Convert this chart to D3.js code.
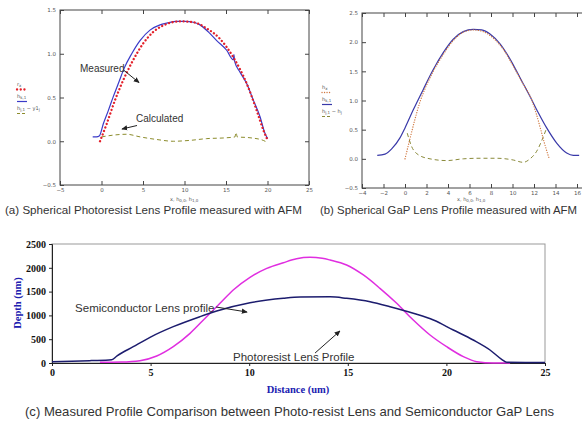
<!DOCTYPE html>
<html>
<head>
<meta charset="utf-8">
<script src="https://cdn.jsdelivr.net/npm/d3@7"></script>
<style>
body { margin:0; background:#fff; }
svg { display:block; }
.cap { font-family: "Liberation Sans", Arial, sans-serif; fill:#333; }
.tiny { font-family: "DejaVu Sans", sans-serif; fill:#555; }
</style>
</head>
<body>
<div id="fig"></div>
<script>
// panel (a): spherical photoresist lens, AFM
var aXTicks = [-5, 0, 5, 10, 15, 20, 25];
var aYTicks = [-0.5, 0, 0.5, 1, 1.5];
var aMeasured = [[-1.06,0.05],[-0.6,0.05],[-0.27,0.06],[0.22,0.20],[0.82,0.35],[1.42,0.51],[2.11,0.68],[2.71,0.83],[3.64,1.00],[4.64,1.15],[5.84,1.27],[7.05,1.33],[7.86,1.35],[9.06,1.37],[10.06,1.37],[11.06,1.36],[11.87,1.33],[12.87,1.25],[13.88,1.15],[15.08,1.04],[15.88,0.93],[15.95,0.99],[16.05,0.91],[16.69,0.79],[17.49,0.66],[18.29,0.47],[19.10,0.28],[19.70,0.09],[20.02,0.03]];
var aCalculated = [[-0.18,0],[0.63,0.2],[1.63,0.47],[2.63,0.70],[3.83,0.93],[5.04,1.12],[6.24,1.25],[7.86,1.34],[9.46,1.37],[11.06,1.36],[12.67,1.29],[14.28,1.17],[15.88,0.96],[17.49,0.66],[18.7,0.35],[19.49,0.13],[20.02,0.01]];
var aDiff = [[0.02,0.05],[1.42,0.07],[3.03,0.08],[4.64,0.05],[6.65,0.02],[8.65,0.0],[10.66,0.01],[12.67,0.03],[15.08,0.04],[16.08,0.05],[16.2,0.1],[16.36,0.05],[17.89,0.04],[19.49,0.01],[19.9,-0.01]];

// panel (b): spherical GaP lens, AFM
var bXTicks = [-4, -2, 0, 2, 4, 6, 8, 10, 12, 14, 16];
var bYTicks = [-0.5, 0, 0.5, 1, 1.5, 2, 2.5];
var bMeasured = [[-2.58,0.06],[-1.86,0.08],[-1.24,0.17],[-0.47,0.36],[0.0,0.53],[0.77,0.84],[1.70,1.19],[2.63,1.53],[3.56,1.82],[4.49,2.05],[5.42,2.18],[6.35,2.22],[7.13,2.21],[7.91,2.14],[8.84,1.97],[9.77,1.71],[10.70,1.39],[11.63,1.07],[12.40,0.79],[13.18,0.53],[14.11,0.27],[15.04,0.10],[15.66,0.06],[16.2,0.06]];
var bCalculated = [[0,0],[0.4,0.3],[0.9,0.66],[1.4,0.98],[2.0,1.26],[2.63,1.50],[3.56,1.79],[4.49,2.03],[5.42,2.17],[6.35,2.21],[7.28,2.18],[8.21,2.07],[9.14,1.88],[10.07,1.59],[11.0,1.28],[11.79,1.01],[12.2,0.78],[12.6,0.52],[13.0,0.25],[13.42,0]];
var bDiff = [[0.21,0.44],[0.62,0.21],[1.24,0.07],[2.33,0.0],[3.88,-0.03],[5.42,0.0],[6.98,0.01],[8.53,0.01],[10.07,-0.02],[11.0,-0.06],[11.63,0.0],[12.25,0.13],[12.87,0.38],[13.18,0.53]];

// panel (c): comparison, depth in nm vs distance in um
var cXTicks = [0, 5, 10, 15, 20, 25];
var cYTicks = [0, 500, 1000, 1500, 2000, 2500];
var cSemi = [[0,27],[1,35],[2,50],[3.03,70],[3.3,150],[4.12,343],[4.97,540],[6.15,763],[7.5,973],[8.35,1092],[10.04,1267],[11.73,1359],[12.58,1385],[14.1,1390],[14.94,1359],[16.13,1288],[17.14,1183],[18.32,1044],[19.34,903],[20.35,693],[21.36,483],[22.21,273],[22.8,77],[23.06,14],[24,12],[25,12]];
var cResist = [[2.43,14],[3.5,20],[4.46,48],[5.31,147],[6.15,343],[7.0,623],[7.84,973],[8.52,1254],[9.19,1534],[10.04,1800],[10.89,1989],[11.73,2107],[12.4,2190],[13.08,2220],[13.7,2200],[14.1,2164],[14.94,2059],[15.79,1849],[16.63,1569],[17.48,1254],[18.32,903],[19.17,588],[20.01,343],[20.86,133],[21.54,28],[22.38,0],[23.23,0]];

var captions = [
  "(a) Spherical Photoresist Lens Profile measured with AFM",
  "(b) Spherical GaP Lens Profile measured with AFM",
  "(c) Measured Profile Comparison between Photo-resist Lens and Semiconductor GaP Lens"
];

var W = 582, H = 421;
var svg = d3.select("#fig").append("svg").attr("width", W).attr("height", H);

var defs = svg.append("defs");
defs.append("marker").attr("id", "arr")
  .attr("viewBox", "0 0 8 8").attr("refX", 7).attr("refY", 4)
  .attr("markerWidth", 6).attr("markerHeight", 6)
  .attr("markerUnits", "userSpaceOnUse").attr("orient", "auto")
  .append("path").attr("d", "M0,0.5 L8,4 L0,7.5 z").attr("fill", "#222");

// mathcad style sub-text: parts = [[text, isSub], ...]
function subText(g, x, y, parts, size) {
  var t = g.append("text").attr("class", "tiny").attr("x", x).attr("y", y)
    .style("font-size", size + "px").attr("fill", "#555");
  parts.forEach(function(p) {
    t.append("tspan").text(p[0])
      .style("font-size", (p[1] ? size * 0.8 : size) + "px")
      .attr("baseline-shift", p[1] ? "-25%" : null);
  });
  return t;
}

function mcadPanel(o) {
  var g = svg.append("g");
  var x = d3.scaleLinear().domain(o.xdom).range(o.xr);
  var y = d3.scaleLinear().domain(o.ydom).range(o.yr);
  var right = o.frameRight || o.xr[1];

  g.append("rect").attr("x", o.xr[0]).attr("y", o.yr[1])
    .attr("width", right - o.xr[0]).attr("height", o.yr[0] - o.yr[1])
    .attr("fill", "none").attr("stroke", "#444").attr("stroke-width", 1);

  var ax = g.append("g").attr("transform", "translate(0," + o.yr[0] + ")")
    .call(d3.axisBottom(x).tickValues(o.xt).tickSize(-4).tickPadding(3));
  var at = g.append("g").attr("transform", "translate(0," + o.yr[1] + ")")
    .call(d3.axisTop(x).tickValues(o.xt).tickSize(-4).tickFormat(""));
  var ay = g.append("g").attr("transform", "translate(" + o.xr[0] + ",0)")
    .call(d3.axisLeft(y).tickValues(o.yt).tickSize(-4).tickPadding(4));
  var ar = g.append("g").attr("transform", "translate(" + right + ",0)")
    .call(d3.axisRight(y).tickValues(o.yt).tickSize(-4).tickFormat(""));
  [ax, at, ay, ar].forEach(function(a) {
    a.select(".domain").remove();
    a.selectAll("line").attr("stroke", "#444");
    a.selectAll("text").attr("class", "tiny").style("font-size", "5.5px").attr("fill", "#444");
  });

  var line = d3.line().x(function(d) { return x(d[0]); }).y(function(d) { return y(d[1]); })
    .curve(d3.curveMonotoneX);

  g.append("path").datum(o.diff).attr("d", line).attr("fill", "none")
    .attr("stroke", o.diffCol).attr("stroke-width", 1).attr("stroke-dasharray", "4 3");
  g.append("path").datum(o.meas).attr("d", line).attr("fill", "none")
    .attr("stroke", o.measCol).attr("stroke-width", 1.2);
  g.append("path").datum(o.calc).attr("d", line).attr("fill", "none")
    .attr("stroke", o.calcCol).attr("stroke-width", o.calcW)
    .attr("stroke-linecap", "round").attr("stroke-dasharray", o.calcDash);

  // legend
  var lx = o.legend[0], ly = o.legend[1];
  o.legText.forEach(function(parts, i) {
    var yy = ly + i * 12;
    subText(g, lx, yy, parts, 5);
    var st = [[o.calcCol, o.calcW, o.calcDash], [o.measCol, 1.2, null], [o.diffCol, 1, "3 2"]][i];
    g.append("line").attr("x1", lx).attr("x2", lx + 10).attr("y1", yy + 3.5).attr("y2", yy + 3.5)
      .attr("stroke", st[0]).attr("stroke-width", st[1])
      .attr("stroke-linecap", st[2] && i === 0 ? "round" : null)
      .attr("stroke-dasharray", st[2]);
  });

  // x axis title
  subText(g, o.xTitle[0], o.xTitle[1], [["x, h", 0], ["0,0", 1], [", h", 0], ["1,0", 1]], 5);
  return {g: g, x: x, y: y};
}

function arrow(g, x1, y1, x2, y2) {
  g.append("line").attr("x1", x1).attr("y1", y1).attr("x2", x2).attr("y2", y2)
    .attr("stroke", "#222").attr("stroke-width", 1).attr("marker-end", "url(#arr)");
}

// ---- (a)
var pa = mcadPanel({
  xdom: [-5, 25], xr: [60, 309], ydom: [-0.5, 1.5], yr: [185, 10],
  xt: aXTicks, yt: aYTicks,
  meas: aMeasured, calc: aCalculated, diff: aDiff,
  measCol: "#3a3ac8", calcCol: "#e3202a", diffCol: "#8c8c2c",
  calcW: 2.3, calcDash: "0.1 3.6",
  legend: [17, 86],
  legText: [[["r", 0], ["x", 1]], [["h", 0], ["k,1", 1]], [["h", 0], ["j,1", 1], [" \u2212 y1", 0], ["j", 1]]],
  xTitle: [170, 201]
});
pa.g.append("text").attr("class", "cap").style("font-size", "10px").attr("fill", "#222")
  .attr("x", pa.x(-2.59)).attr("y", pa.y(0.79)).text("Measured");
arrow(pa.g, pa.x(2.71), pa.y(0.81), pa.x(4.52), pa.y(0.67));
pa.g.append("text").attr("class", "cap").style("font-size", "10px").attr("fill", "#222")
  .attr("x", pa.x(4.16)).attr("y", pa.y(0.22)).text("Calculated");
arrow(pa.g, pa.x(4.28), pa.y(0.18), pa.x(2.47), pa.y(0.14));

// ---- (b)
var pb = mcadPanel({
  xdom: [-4, 16], xr: [362, 577], ydom: [-0.5, 2.5], yr: [188, 13],
  frameRight: 590,
  xt: bXTicks, yt: bYTicks,
  meas: bMeasured, calc: bCalculated, diff: bDiff,
  measCol: "#3838a8", calcCol: "#d07840", diffCol: "#8a8a3a",
  calcW: 1.3, calcDash: "0.1 2.4",
  legend: [322, 89],
  legText: [[["h", 0], ["x", 1]], [["h", 0], ["k,1", 1]], [["h", 0], ["j,1", 1], [" \u2212 h", 0], ["j", 1]]],
  xTitle: [457, 201]
});

// ---- (c)
var gc = svg.append("g");
var xc = d3.scaleLinear().domain([0, 25]).range([52, 545]);
var yc = d3.scaleLinear().domain([0, 2500]).range([363, 244]);

gc.append("rect").attr("x", 52).attr("y", 244).attr("width", 545 - 52).attr("height", 363 - 244)
  .attr("fill", "none").attr("stroke", "#999").attr("stroke-width", 1);

var cax = gc.append("g").attr("transform", "translate(0,363)")
  .call(d3.axisBottom(xc).tickValues(cXTicks).tickFormat(d3.format("d")).tickSize(3).tickPadding(3));
var cay = gc.append("g").attr("transform", "translate(52,0)")
  .call(d3.axisLeft(yc).tickValues(cYTicks).tickFormat(d3.format("d")).tickSize(3).tickPadding(3));
[cax, cay].forEach(function(a) {
  a.select(".domain").attr("stroke", "#222");
  a.selectAll("line").attr("stroke", "#222");
  a.selectAll("text").style("font-family", "'Liberation Serif', 'DejaVu Serif', serif")
    .style("font-weight", "bold").style("font-size", "10px").attr("fill", "#111");
});

var cline = d3.line().x(function(d) { return xc(d[0]); }).y(function(d) { return yc(d[1]); })
  .curve(d3.curveMonotoneX);
gc.append("path").datum(cResist).attr("d", cline).attr("fill", "none")
  .attr("stroke", "#e02ee0").attr("stroke-width", 1.5);
gc.append("path").datum(cSemi).attr("d", cline).attr("fill", "none")
  .attr("stroke", "#1c1c6e").attr("stroke-width", 1.5);

gc.append("text").style("font-family", "'Liberation Serif', 'DejaVu Serif', serif")
  .style("font-weight", "bold").style("font-size", "10.5px").attr("fill", "#2020b0")
  .attr("text-anchor", "middle").attr("transform", "translate(21,303) rotate(-90)")
  .text("Depth (nm)");
gc.append("text").style("font-family", "'Liberation Serif', 'DejaVu Serif', serif")
  .style("font-weight", "bold").style("font-size", "10.5px").attr("fill", "#2020b0")
  .attr("text-anchor", "middle").attr("x", 298).attr("y", 393)
  .text("Distance (um)");

gc.append("text").attr("class", "cap").style("font-size", "11.5px").attr("fill", "#222")
  .attr("x", xc(1.17)).attr("y", yc(1071)).text("Semiconductor Lens profile");
arrow(gc, xc(8.32), yc(1176), xc(9.89), yc(1071));
gc.append("text").attr("class", "cap").style("font-size", "11.5px").attr("fill", "#222")
  .attr("x", xc(9.18)).attr("y", yc(42)).text("Photoresist Lens Profile");
arrow(gc, xc(13.34), yc(210), xc(14.6), yc(672));

// captions
svg.append("text").attr("class", "cap").style("font-size", "11.3px").attr("x", 5).attr("y", 214)
  .attr("textLength", 297).attr("lengthAdjust", "spacingAndGlyphs").text(captions[0]);
svg.append("text").attr("class", "cap").style("font-size", "11.3px").attr("x", 320).attr("y", 214)
  .attr("textLength", 257).attr("lengthAdjust", "spacingAndGlyphs").text(captions[1]);
svg.append("text").attr("class", "cap").style("font-size", "13px").attr("x", 25).attr("y", 416)
  .attr("textLength", 529).attr("lengthAdjust", "spacingAndGlyphs").text(captions[2]);
</script>
</body>
</html>
